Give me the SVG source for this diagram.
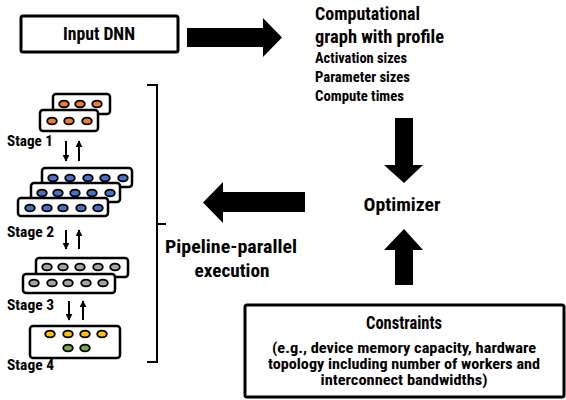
<svg xmlns="http://www.w3.org/2000/svg" width="566" height="400" viewBox="0 0 566 400">
<defs>
<style>
text{font-family:"Roboto Condensed","Liberation Sans Narrow",Roboto,"Liberation Sans",sans-serif;font-weight:bold;fill:#000}
.big{font-size:19px}
.mid{font-size:14.5px}
.lbl{font-size:14.5px}
.box{fill:#fff;stroke:#000;stroke-width:2.5}
.bigbox{fill:#fff;stroke:#000;stroke-width:3}
.o{stroke:#000;stroke-width:1.8}
.or{fill:#ED7D31}.bl{fill:#4472C4}.gr{fill:#A5A5A5}.ye{fill:#FFC000}.gn{fill:#70AD47}
.fat{fill:#000}
.thin{stroke:#000;stroke-width:2;fill:none}
</style>
<marker id="ah" viewBox="0 0 10 10" refX="9" refY="5" markerWidth="3.5" markerHeight="3.5" orient="auto"><path d="M0,0 L10,5 L0,10 z" fill="#000"/></marker>
</defs>

<g id="input-dnn">
<rect class="bigbox" x="21" y="16" width="157" height="36" rx="2"/>
<text class="big" x="99" y="40" text-anchor="middle" textLength="72" lengthAdjust="spacingAndGlyphs">Input DNN</text>
</g>

<g id="graph-profile">
<text class="big" x="315" y="20" textLength="105" lengthAdjust="spacingAndGlyphs">Computational</text>
<text class="big" x="315" y="43" textLength="129" lengthAdjust="spacingAndGlyphs">graph with profile</text>
<text class="mid" x="315" y="63" textLength="92" lengthAdjust="spacingAndGlyphs">Activation sizes</text>
<text class="mid" x="315" y="82" textLength="95" lengthAdjust="spacingAndGlyphs">Parameter sizes</text>
<text class="mid" x="315" y="101" textLength="89" lengthAdjust="spacingAndGlyphs">Compute times</text>
</g>

<g id="optimizer">
<text class="big" x="402" y="211" text-anchor="middle" textLength="77" lengthAdjust="spacingAndGlyphs">Optimizer</text>
</g>

<g id="pipeline-label">
<text class="big" x="231" y="253" text-anchor="middle" textLength="132" lengthAdjust="spacingAndGlyphs">Pipeline-parallel</text>
<text class="big" x="232" y="277" text-anchor="middle" textLength="75" lengthAdjust="spacingAndGlyphs">execution</text>
</g>

<g id="constraints">
<rect class="bigbox" x="245" y="305" width="319" height="92" rx="2"/>
<text class="big" x="404" y="329" text-anchor="middle" textLength="76" lengthAdjust="spacingAndGlyphs">Constraints</text>
<text class="mid" x="404" y="353" text-anchor="middle" textLength="264" lengthAdjust="spacingAndGlyphs">(e.g., device memory capacity, hardware</text>
<text class="mid" x="404" y="369" text-anchor="middle" textLength="272" lengthAdjust="spacingAndGlyphs">topology including number of workers and</text>
<text class="mid" x="404" y="385" text-anchor="middle" textLength="167" lengthAdjust="spacingAndGlyphs">interconnect bandwidths)</text>
</g>

<g id="stage1">
<rect class="box" x="53" y="94" width="57" height="20" rx="3"/>
<ellipse class="o or" cx="64" cy="104" rx="4.8" ry="3.4"/>
<ellipse class="o or" cx="80" cy="104" rx="4.8" ry="3.4"/>
<ellipse class="o or" cx="97" cy="104" rx="4.8" ry="3.4"/>
<rect class="box" x="40" y="110" width="58" height="21" rx="3"/>
<ellipse class="o or" cx="52" cy="121" rx="4.8" ry="3.4"/>
<ellipse class="o or" cx="69" cy="121" rx="4.8" ry="3.4"/>
<ellipse class="o or" cx="87" cy="121" rx="4.8" ry="3.4"/>
<text class="lbl" x="7" y="146" textLength="46" lengthAdjust="spacingAndGlyphs">Stage 1</text>
</g>

<g id="stage2">
<rect class="box" x="42" y="168" width="90" height="19" rx="3"/>
<ellipse class="o bl" cx="53" cy="178" rx="4.8" ry="3.4"/>
<ellipse class="o bl" cx="70" cy="178" rx="4.8" ry="3.4"/>
<ellipse class="o bl" cx="88" cy="178" rx="4.8" ry="3.4"/>
<ellipse class="o bl" cx="105" cy="178" rx="4.8" ry="3.4"/>
<ellipse class="o bl" cx="123" cy="178" rx="4.8" ry="3.4"/>
<rect class="box" x="31" y="183" width="89" height="19" rx="3"/>
<ellipse class="o bl" cx="42" cy="193" rx="4.8" ry="3.4"/>
<ellipse class="o bl" cx="58" cy="193" rx="4.8" ry="3.4"/>
<ellipse class="o bl" cx="75" cy="193" rx="4.8" ry="3.4"/>
<ellipse class="o bl" cx="92" cy="193" rx="4.8" ry="3.4"/>
<ellipse class="o bl" cx="110" cy="193" rx="4.8" ry="3.4"/>
<rect class="box" x="18" y="198" width="90" height="18" rx="3"/>
<ellipse class="o bl" cx="30" cy="208" rx="4.8" ry="3.4"/>
<ellipse class="o bl" cx="47" cy="208" rx="4.8" ry="3.4"/>
<ellipse class="o bl" cx="63" cy="208" rx="4.8" ry="3.4"/>
<ellipse class="o bl" cx="81" cy="208" rx="4.8" ry="3.4"/>
<ellipse class="o bl" cx="98" cy="208" rx="4.8" ry="3.4"/>
<text class="lbl" x="7" y="237" textLength="47" lengthAdjust="spacingAndGlyphs">Stage 2</text>
</g>

<g id="stage3">
<rect class="box" x="36" y="258" width="92" height="19" rx="3"/>
<ellipse class="o gr" cx="47" cy="267" rx="4.8" ry="3.4"/>
<ellipse class="o gr" cx="63" cy="267" rx="4.8" ry="3.4"/>
<ellipse class="o gr" cx="80" cy="267" rx="4.8" ry="3.4"/>
<ellipse class="o gr" cx="98" cy="267" rx="4.8" ry="3.4"/>
<ellipse class="o gr" cx="115" cy="267" rx="4.8" ry="3.4"/>
<rect class="box" x="23" y="274" width="92" height="19" rx="3"/>
<ellipse class="o gr" cx="34" cy="283" rx="4.8" ry="3.4"/>
<ellipse class="o gr" cx="52" cy="283" rx="4.8" ry="3.4"/>
<ellipse class="o gr" cx="68" cy="283" rx="4.8" ry="3.4"/>
<ellipse class="o gr" cx="86" cy="283" rx="4.8" ry="3.4"/>
<ellipse class="o gr" cx="103" cy="283" rx="4.8" ry="3.4"/>
<text class="lbl" x="7" y="310" textLength="47" lengthAdjust="spacingAndGlyphs">Stage 3</text>
</g>

<g id="stage4">
<rect class="box" x="30" y="326" width="90" height="32" rx="3"/>
<ellipse class="o ye" cx="50" cy="334" rx="4.8" ry="3.4"/>
<ellipse class="o ye" cx="68" cy="334" rx="4.8" ry="3.4"/>
<ellipse class="o ye" cx="85" cy="334" rx="4.8" ry="3.4"/>
<ellipse class="o ye" cx="102" cy="334" rx="4.8" ry="3.4"/>
<ellipse class="o gn" cx="68" cy="348" rx="4.8" ry="3.4"/>
<ellipse class="o gn" cx="85" cy="348" rx="4.8" ry="3.4"/>
<text class="lbl" x="7" y="370" textLength="47" lengthAdjust="spacingAndGlyphs">Stage 4</text>
</g>

<g id="connectors">
<polygon class="fat" points="187,28 263,28 263,18 282,37.5 263,57 263,47 187,47"/>
<polygon class="fat" points="395,118 413,118 413,165 423,165 404,183 384,165 395,165"/>
<polygon class="fat" points="395,285 413,285 413,250 423,250 404,229 384,250 395,250"/>
<polygon class="fat" points="305,192 305,212 223,212 223,223 203,202.5 223,182 223,192"/>
<path class="thin" d="M147,85 H157 V362 H147 M157,224 H166"/>
<line class="thin" x1="66" y1="141" x2="66" y2="161" marker-end="url(#ah)"/>
<line class="thin" x1="79" y1="161" x2="79" y2="141" marker-end="url(#ah)"/>
<line class="thin" x1="66" y1="230" x2="66" y2="249" marker-end="url(#ah)"/>
<line class="thin" x1="79" y1="249" x2="79" y2="230" marker-end="url(#ah)"/>
<line class="thin" x1="69" y1="301" x2="69" y2="320" marker-end="url(#ah)"/>
<line class="thin" x1="83" y1="320" x2="83" y2="301" marker-end="url(#ah)"/>
</g>
</svg>
